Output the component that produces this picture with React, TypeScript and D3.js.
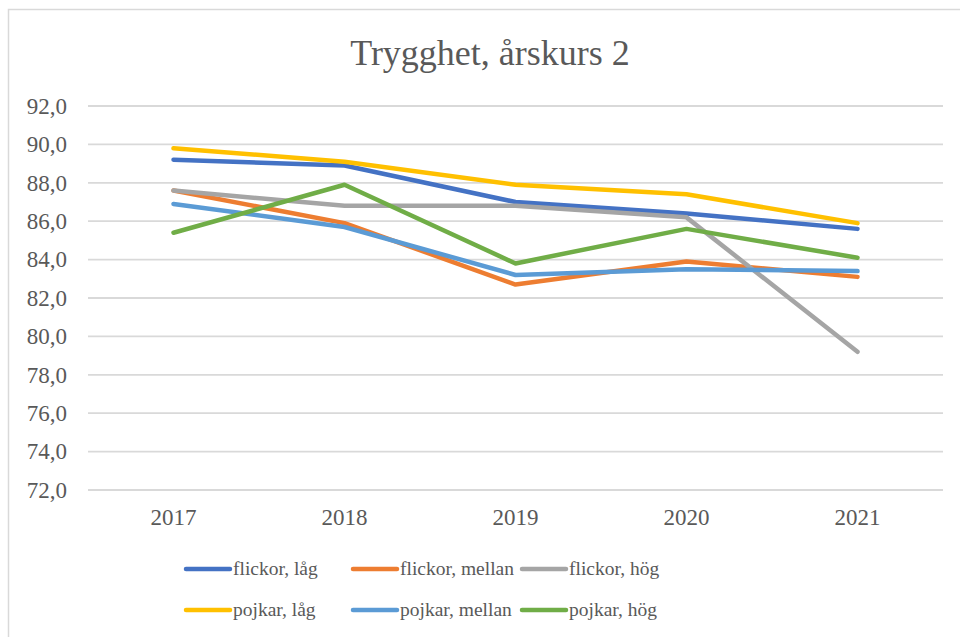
import * as d3 from "d3";

const years = ["2017", "2018", "2019", "2020", "2021"];
const flickorLag = [89.2, 88.9, 87.0, 86.4, 85.6];
const flickorMellan = [87.6, 85.9, 82.7, 83.9, 83.1];
const flickorHog = [87.6, 86.8, 86.8, 86.2, 79.2];
const pojkarLag = [89.8, 89.1, 87.9, 87.4, 85.9];
const pojkarMellan = [86.9, 85.7, 83.2, 83.5, 83.4];
const pojkarHog = [85.4, 87.9, 83.8, 85.6, 84.1];
const yTicks = [72, 74, 76, 78, 80, 82, 84, 86, 88, 90, 92];

const seriesNames = [
  "flickor, låg",
  "flickor, mellan",
  "flickor, hög",
  "pojkar, låg",
  "pojkar, mellan",
  "pojkar, hög",
];
const seriesValues = [flickorLag, flickorMellan, flickorHog, pojkarLag, pojkarMellan, pojkarHog];
const colors = ["#4472C4", "#ED7D31", "#A5A5A5", "#FFC000", "#5B9BD5", "#70AD47"];

const W = 960;
const H = 637;
const font = "Liberation Serif";
const textColor = "#595959";

const svFormat = d3.formatLocale({ decimal: ",", thousands: " ", grouping: [3], currency: ["", " kr"] }).format(".1f");

export default function App() {
  const x = d3.scaleBand<string>().domain(years).range([88, 943]);
  const y = d3.scaleLinear().domain([72, 92]).range([490, 106]);

  const line = d3
    .line<number>()
    .x((_, i) => x(years[i])! + x.bandwidth() / 2)
    .y((d) => y(d));

  const legendCols = [186, 353, 522];
  const legendRows = [569, 610];

  return (
    <svg width={W} height={H} style={{ position: "absolute", left: 0, top: 0, background: "#fff" }}>
      <rect x={8.5} y={9.5} width={W} height={H} fill="#fff" stroke="#d9d9d9" strokeWidth={1.5} />

      <text x={490} y={65} textAnchor="middle" fontSize={36} fill={textColor} style={{ fontFamily: font }}>
        Trygghet, årskurs 2
      </text>

      <g>
        {yTicks.map((t) => (
          <g key={t}>
            <line x1={88} x2={943} y1={y(t)} y2={y(t)} stroke="#d9d9d9" strokeWidth={1.8} />
            <text
              x={67}
              y={y(t)}
              dy="0.34em"
              textAnchor="end"
              fontSize={23}
              fill={textColor}
              style={{ fontFamily: font }}
            >
              {svFormat(t)}
            </text>
          </g>
        ))}
      </g>

      <g>
        {years.map((yr) => (
          <text
            key={yr}
            x={x(yr)! + x.bandwidth() / 2}
            y={525}
            textAnchor="middle"
            fontSize={23}
            fill={textColor}
            style={{ fontFamily: font }}
          >
            {yr}
          </text>
        ))}
      </g>

      <g>
        {seriesValues.map((vals, i) => (
          <path
            key={seriesNames[i]}
            d={line(vals)!}
            fill="none"
            stroke={colors[i]}
            strokeWidth={4.5}
            strokeLinecap="round"
            strokeLinejoin="round"
          />
        ))}
      </g>

      <g>
        {seriesNames.map((name, i) => {
          const cx = legendCols[i % 3];
          const cy = legendRows[Math.floor(i / 3)];
          return (
            <g key={name}>
              <line x1={cx} x2={cx + 44} y1={cy} y2={cy} stroke={colors[i]} strokeWidth={4.5} strokeLinecap="round" />
              <text x={cx + 47} y={cy} dy="0.3em" fontSize={19.5} fill={textColor} style={{ fontFamily: font }}>
                {name}
              </text>
            </g>
          );
        })}
      </g>
    </svg>
  );
}
